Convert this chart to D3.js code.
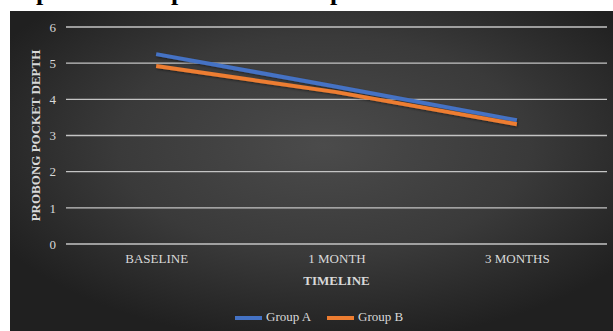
<!DOCTYPE html>
<html>
<head>
<meta charset="utf-8">
<script src="https://cdn.jsdelivr.net/npm/d3@7"></script>
<style>
  html, body { margin: 0; padding: 0; background: #fff; }
  svg { display: block; font-family: "Liberation Serif", "Times New Roman", serif; }
</style>
</head>
<body>
<svg width="613" height="331"></svg>
<script>
// chart values
var timeline = ['BASELINE', '1 MONTH', '3 MONTHS'];
var groupA = [5.25, 4.35, 3.42];
var groupB = [4.92, 4.2, 3.31];
var yTicks = [0, 1, 2, 3, 4, 5, 6];
var seriesNames = ['Group A', 'Group B'];
var seriesColors = ['#4472C4', '#ED7D31'];
var titleWords = ['periodontal', 'pocket', 'depth'];

var svg = d3.select('svg');
var svgWidth = +svg.attr('width');
var svgHeight = +svg.attr('height');

var padding = {t: 27, r: 6, b: 87, l: 66};
var plotW = svgWidth - padding.l - padding.r;
var plotH = svgHeight - padding.t - padding.b;

// background with soft radial light
var defs = svg.append('defs');
var grad = defs.append('radialGradient')
    .attr('id', 'bg')
    .attr('cx', '52%').attr('cy', '42%').attr('r', '62%');
grad.append('stop').attr('offset', '0%').attr('stop-color', '#4b4b4b');
grad.append('stop').attr('offset', '55%').attr('stop-color', '#3a3a3a');
grad.append('stop').attr('offset', '100%').attr('stop-color', '#202020');

var shadow = defs.append('filter').attr('id', 'sh')
    .attr('x', '-5%').attr('y', '-20%').attr('width', '110%').attr('height', '140%');
shadow.append('feDropShadow')
    .attr('dx', 0.8).attr('dy', 1.2).attr('stdDeviation', 0.8)
    .attr('flood-color', '#000').attr('flood-opacity', 0.45);

svg.append('rect')
    .attr('x', 10).attr('y', 11)
    .attr('width', svgWidth - 10).attr('height', svgHeight - 11)
    .attr('fill', 'url(#bg)');

// title, mostly cut off above the picture (as in the source)
var titleG = svg.append('text')
    .attr('y', 0)
    .attr('fill', '#000')
    .style('font-size', '26px')
    .style('font-weight', 'bold');
var titleX = [36, 171, 304];
titleG.selectAll('tspan')
    .data(titleWords)
    .join('tspan')
    .attr('x', function(d, i) { return titleX[i]; })
    .text(function(d) { return d; });

var x = d3.scalePoint().domain(timeline).range([0, plotW]).padding(0.5);
var y = d3.scaleLinear().domain([0, 6]).range([plotH, 0]);

var chart = svg.append('g')
    .attr('transform', 'translate(' + [padding.l, padding.t] + ')');

// gridlines
chart.selectAll('.grid')
    .data(yTicks)
    .join('line')
    .attr('class', 'grid')
    .attr('x1', 0).attr('x2', plotW)
    .attr('y1', function(d) { return y(d); })
    .attr('y2', function(d) { return y(d); })
    .attr('stroke', '#c4c4c4')
    .attr('stroke-width', 1.3);

// y axis labels
var yAxis = chart.append('g')
    .attr('class', 'y axis')
    .call(d3.axisLeft(y).tickValues(yTicks).tickFormat(d3.format('d')).tickSize(0).tickPadding(10));
yAxis.select('.domain').remove();
yAxis.selectAll('text')
    .attr('fill', '#d9d9d9')
    .style('font-size', '13px')
    .style('font-family', '"Liberation Serif", serif');

// x axis labels
var xAxis = chart.append('g')
    .attr('class', 'x axis')
    .attr('transform', 'translate(0,' + plotH + ')')
    .call(d3.axisBottom(x).tickSize(0).tickPadding(10));
xAxis.select('.domain').remove();
xAxis.selectAll('text')
    .attr('fill', '#d9d9d9')
    .style('font-size', '13px')
    .style('font-family', '"Liberation Serif", serif');

// axis titles
chart.append('text')
    .attr('transform', 'translate(' + (-29) + ',' + (y(3)) + ') rotate(-90)')
    .attr('text-anchor', 'middle')
    .attr('dominant-baseline', 'middle')
    .attr('fill', '#d9d9d9')
    .style('font-size', '13px')
    .style('font-weight', 'bold')
    .text('PROBONG POCKET DEPTH');

chart.append('text')
    .attr('x', plotW / 2)
    .attr('y', plotH + 41)
    .attr('text-anchor', 'middle')
    .attr('fill', '#d9d9d9')
    .style('font-size', '13px')
    .style('font-weight', 'bold')
    .text('TIMELINE');

// lines
var series = [groupA, groupB];
var line = d3.line()
    .x(function(d, i) { return x(timeline[i]); })
    .y(function(d) { return y(d); });

chart.selectAll('.series')
    .data(series)
    .join('path')
    .attr('class', 'series')
    .attr('d', line)
    .attr('fill', 'none')
    .attr('stroke', function(d, i) { return seriesColors[i]; })
    .attr('stroke-width', 4)
    .attr('filter', 'url(#sh)');

// legend
var legend = svg.append('g')
    .attr('transform', 'translate(235, 318)');
var legendX = [0, 92];
var items = legend.selectAll('g')
    .data(seriesNames)
    .join('g')
    .attr('transform', function(d, i) { return 'translate(' + legendX[i] + ',0)'; });
items.append('line')
    .attr('x1', 0).attr('x2', 27)
    .attr('y1', 0).attr('y2', 0)
    .attr('stroke', function(d, i) { return seriesColors[i]; })
    .attr('stroke-width', 4);
items.append('text')
    .attr('x', 31)
    .attr('y', 0)
    .attr('dominant-baseline', 'middle')
    .attr('fill', '#d9d9d9')
    .style('font-size', '13px')
    .text(function(d) { return d; });
</script>
</body>
</html>
